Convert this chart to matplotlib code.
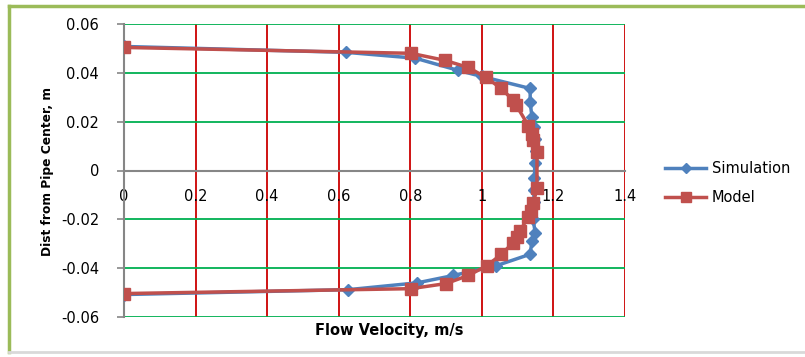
import matplotlib.pyplot as plt
from matplotlib.lines import Line2D

# velocity profile across the pipe
sim_velocity = [0.0, 0.62, 0.814, 0.934, 1.0, 1.135, 1.135, 1.14, 1.145, 1.148, 1.15, 1.148,
                1.147, 1.146, 1.145, 1.143, 1.149, 1.14, 1.135, 1.04, 0.92, 0.82, 0.627, 0.0]
sim_dist = [0.0508, 0.0484, 0.046, 0.041, 0.0385, 0.0336, 0.0279, 0.022, 0.018, 0.013, 0.008, 0.003,
            -0.003, -0.008, -0.013, -0.0197, -0.0254, -0.0287, -0.0343, -0.039, -0.043, -0.046, -0.0488, -0.0508]

model_velocity = [0.0, 0.802, 0.897, 0.962, 1.012, 1.054, 1.088, 1.095, 1.13, 1.14, 1.144, 1.154,
                  1.154, 1.144, 1.137, 1.13, 1.107, 1.098, 1.088, 1.054, 1.014, 0.962, 0.90, 0.802, 0.0]
model_dist = [0.0504, 0.048, 0.0451, 0.0422, 0.0381, 0.0336, 0.0287, 0.027, 0.0184, 0.015, 0.0123, 0.0074,
              -0.007, -0.0135, -0.0164, -0.019, -0.0246, -0.0274, -0.0295, -0.0344, -0.039, -0.043, -0.0463, -0.0484, -0.0504]

x_ticks = [0, 0.2, 0.4, 0.6, 0.8, 1, 1.2, 1.4]
x_tick_labels = ["0", "0.2", "0.4", "0.6", "0.8", "1", "1.2", "1.4"]
y_ticks = [-0.06, -0.04, -0.02, 0, 0.02, 0.04, 0.06]
y_tick_labels = ["-0.06", "-0.04", "-0.02", "0", "0.02", "0.04", "0.06"]

BLUE = "#4F81BD"
RED = "#C0504D"

fig = plt.figure(figsize=(8.05, 3.57), dpi=100)
ax = fig.add_axes([124 / 805, 1 - 317 / 357, (625 - 124) / 805, (317 - 24) / 357])

# chart frame like the spreadsheet one
fig.add_artist(Line2D([9 / 805, 9 / 805], [1 - 352 / 357, 1 - 6 / 357], transform=fig.transFigure,
                      color="#9BBB59", lw=2.5))
fig.add_artist(Line2D([9 / 805, 1], [1 - 6 / 357, 1 - 6 / 357], transform=fig.transFigure,
                      color="#9BBB59", lw=2.5))
fig.add_artist(Line2D([9 / 805, 1], [1 - 352 / 357, 1 - 352 / 357], transform=fig.transFigure,
                      color="#D9D9D9", lw=2))

for xv in x_ticks[1:]:
    ax.axvline(xv, color="#CC0000", lw=1.3, zorder=1)
for yv in y_ticks:
    if yv != 0:
        ax.axhline(yv, color="#00B050", lw=1.3, zorder=1)

ax.plot(sim_velocity, sim_dist, color=BLUE, lw=2.5, marker="D", ms=6.5, zorder=3, label="Simulation")
ax.plot(model_velocity, model_dist, color=RED, lw=2.5, marker="s", ms=8.5, zorder=4, label="Model")

ax.set_xlim(0, 1.4)
ax.set_ylim(-0.06, 0.06)
ax.set_xticks(x_ticks)
ax.set_xticklabels(x_tick_labels)
ax.set_yticks(y_ticks)
ax.set_yticklabels(y_tick_labels)

ax.spines["bottom"].set_position(("data", 0))
for side in ["top", "right"]:
    ax.spines[side].set_visible(False)
ax.spines["left"].set_color("#868686")
ax.spines["bottom"].set_color("#868686")
ax.spines["left"].set_linewidth(1.5)
ax.spines["bottom"].set_linewidth(1.5)
ax.tick_params(axis="y", colors="#868686", labelcolor="black", length=5, width=1.2, labelsize=10.5, pad=13)
ax.tick_params(axis="x", colors="#868686", labelcolor="black", length=0, labelsize=10.5, pad=13)
ax.spines["left"].set_zorder(2)
ax.spines["bottom"].set_zorder(2)

fig.text(389 / 805, 1 - 331 / 357, "Flow Velocity, m/s", fontsize=10.5, fontweight="bold",
         ha="center", va="center")
fig.text(47 / 805, 1 - 172 / 357, "Dist from Pipe Center, m", fontsize=8.8, fontweight="bold",
         rotation=90, ha="center", va="center")

fig.legend(loc="center left", bbox_to_anchor=(652 / 805, 1 - 183 / 357), frameon=False,
           fontsize=10.5, handlelength=2.8, handletextpad=0.4, labelspacing=1.0, markerscale=0.8)

fig.savefig("out.png", dpi=100)
